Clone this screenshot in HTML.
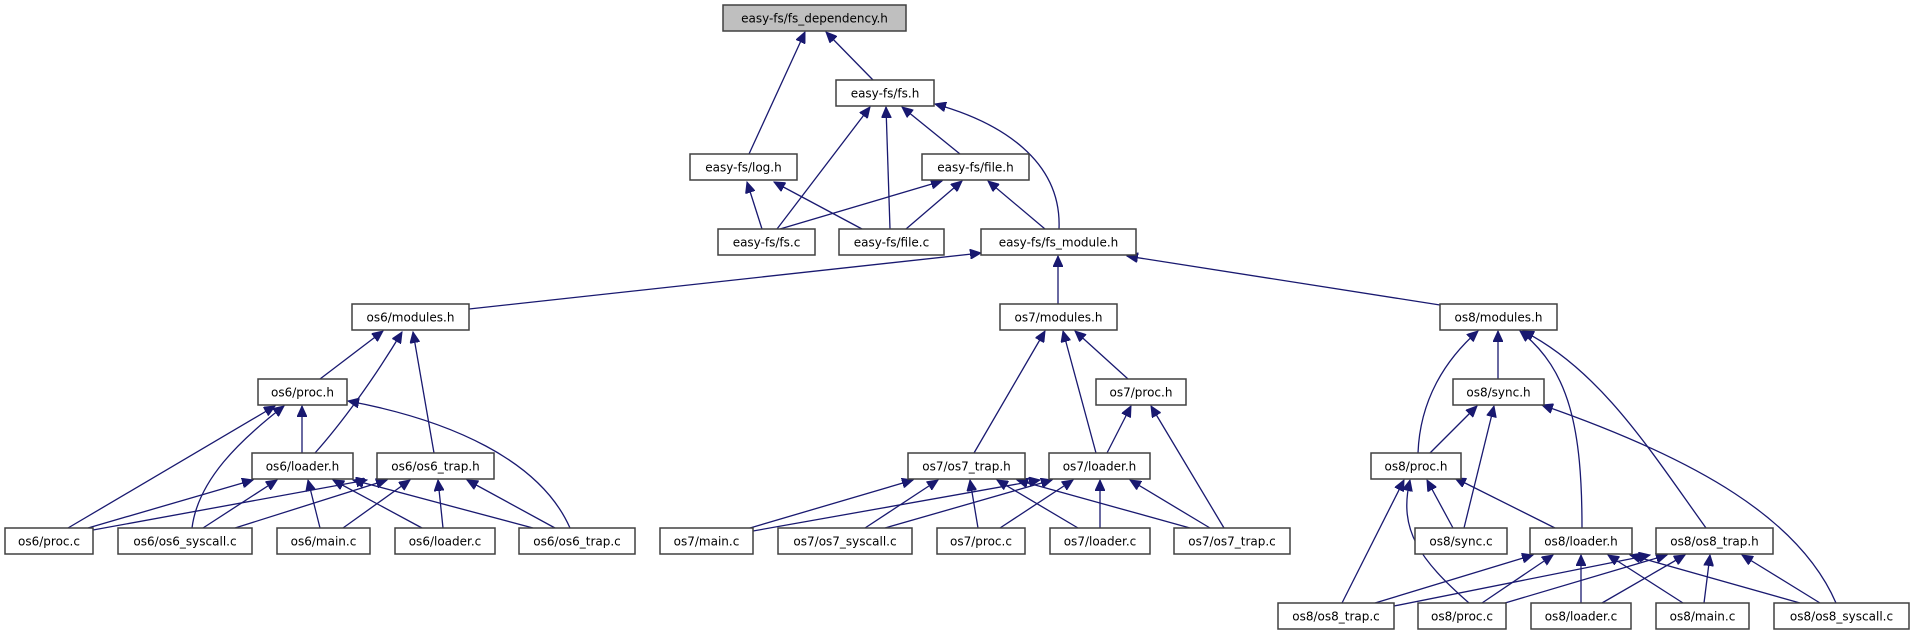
<!DOCTYPE html>
<html><head><meta charset="utf-8"><style>
html,body{margin:0;padding:0;background:#fff;}
svg{display:block;}
text{font-family:"DejaVu Sans","Liberation Sans",sans-serif;font-size:12px;fill:#000;}
.b{fill:#fff;stroke:#404040;stroke-width:1.5;}
.e{fill:none;stroke:#191970;stroke-width:1.3;marker-end:url(#a);}
</style></head><body>
<svg width="1914" height="635" viewBox="0 0 1914 635" xmlns="http://www.w3.org/2000/svg">
<defs><marker id="a" markerUnits="userSpaceOnUse" markerWidth="12" markerHeight="10" refX="11" refY="5" orient="auto"><path d="M0,0 L11,5 L0,10 z" fill="#191970" stroke="#191970"/></marker></defs>
<g>
<path class="e" d="M749,154 L805,32"/>
<path class="e" d="M873,80 L826,32"/>
<path class="e" d="M777,229 L870,107"/>
<path class="e" d="M890,229 L886,107"/>
<path class="e" d="M960,154 L902,107"/>
<path class="e" d="M1059,229 C1062,160 1000,122 935,104"/>
<path class="e" d="M762,229 L747,182"/>
<path class="e" d="M862,229 L774,182"/>
<path class="e" d="M780,229 L942,181"/>
<path class="e" d="M906,229 L962,181"/>
<path class="e" d="M1045,229 L988,181"/>
<path class="e" d="M469,309 L981,253"/>
<path class="e" d="M1058,304 L1058,256"/>
<path class="e" d="M1440,305 L1127,256"/>
<!-- os6 -->
<path class="e" d="M320,379 L383,331"/>
<path class="e" d="M315,453 C340,425 372,382 402,332"/>
<path class="e" d="M434,453 L413,332"/>
<path class="e" d="M302,453 L302,406"/>
<path class="e" d="M68,528 L275,406"/>
<path class="e" d="M192,528 C198,480 240,440 284,406"/>
<path class="e" d="M570,528 C540,460 450,420 348,401"/>
<path class="e" d="M88,528 L253,480"/>
<path class="e" d="M203,528 L277,480"/>
<path class="e" d="M320,528 L308,480"/>
<path class="e" d="M422,528 L333,480"/>
<path class="e" d="M533,528 L353,480"/>
<path class="e" d="M93,530 L367,480"/>
<path class="e" d="M235,528 L387,480"/>
<path class="e" d="M343,528 L410,480"/>
<path class="e" d="M443,528 L438,480"/>
<path class="e" d="M555,528 L467,480"/>
<!-- os7 -->
<path class="e" d="M974,453 L1045,331"/>
<path class="e" d="M1096,453 L1063,331"/>
<path class="e" d="M1128,379 L1075,331"/>
<path class="e" d="M1107,453 L1131,406"/>
<path class="e" d="M1224,528 L1151,406"/>
<path class="e" d="M750,528 L913,480"/>
<path class="e" d="M865,528 L938,480"/>
<path class="e" d="M978,528 L970,480"/>
<path class="e" d="M1078,528 L997,480"/>
<path class="e" d="M1190,528 L1017,480"/>
<path class="e" d="M753,531 L1040,480"/>
<path class="e" d="M885,528 L1052,480"/>
<path class="e" d="M1000,528 L1073,480"/>
<path class="e" d="M1100,528 L1100,480"/>
<path class="e" d="M1210,528 L1130,480"/>
<!-- os8 -->
<path class="e" d="M1418,453 C1420,400 1445,360 1478,331"/>
<path class="e" d="M1498,379 L1498,331"/>
<path class="e" d="M1582,528 C1582,430 1570,370 1520,331"/>
<path class="e" d="M1706,528 C1650,450 1600,370 1523,331"/>
<path class="e" d="M1430,453 L1477,406"/>
<path class="e" d="M1464,528 L1494,406"/>
<path class="e" d="M1836,603 C1800,520 1700,460 1542,405"/>
<path class="e" d="M1453,528 L1427,480"/>
<path class="e" d="M1555,528 L1455,478"/>
<path class="e" d="M1342,603 L1404,480"/>
<path class="e" d="M1469,603 C1420,560 1398,530 1410,480"/>
<path class="e" d="M1375,603 L1533,555"/>
<path class="e" d="M1482,603 L1553,555"/>
<path class="e" d="M1581,603 L1581,555"/>
<path class="e" d="M1683,603 L1608,555"/>
<path class="e" d="M1800,603 L1630,555"/>
<path class="e" d="M1394,606 L1650,555"/>
<path class="e" d="M1505,603 L1667,555"/>
<path class="e" d="M1602,603 L1685,555"/>
<path class="e" d="M1704,603 L1710,555"/>
<path class="e" d="M1820,603 L1742,555"/>
</g>
<g>
<rect x="723" y="5" width="183" height="26" style="fill:#bfbfbf;stroke:#404040;stroke-width:1.5"/><text x="814.5" y="22.5" text-anchor="middle">easy-fs/fs_dependency.h</text>
<rect class="b" x="836" y="80" width="98" height="26"/><text x="885" y="97.5" text-anchor="middle">easy-fs/fs.h</text>
<rect class="b" x="690" y="154" width="107" height="26"/><text x="743.5" y="171.5" text-anchor="middle">easy-fs/log.h</text>
<rect class="b" x="922" y="154" width="107" height="26"/><text x="975.5" y="171.5" text-anchor="middle">easy-fs/file.h</text>
<rect class="b" x="718" y="229" width="97" height="26"/><text x="766.5" y="246.5" text-anchor="middle">easy-fs/fs.c</text>
<rect class="b" x="839" y="229" width="105" height="26"/><text x="891.5" y="246.5" text-anchor="middle">easy-fs/file.c</text>
<rect class="b" x="981" y="229" width="155" height="26"/><text x="1058.5" y="246.5" text-anchor="middle">easy-fs/fs_module.h</text>
<rect class="b" x="352" y="304" width="117" height="26"/><text x="410.5" y="321.5" text-anchor="middle">os6/modules.h</text>
<rect class="b" x="258" y="379" width="89" height="26"/><text x="302.5" y="396.5" text-anchor="middle">os6/proc.h</text>
<rect class="b" x="252" y="453" width="101" height="26"/><text x="302.5" y="470.5" text-anchor="middle">os6/loader.h</text>
<rect class="b" x="377" y="453" width="117" height="26"/><text x="435.5" y="470.5" text-anchor="middle">os6/os6_trap.h</text>
<rect class="b" x="5" y="528" width="88" height="26"/><text x="49" y="545.5" text-anchor="middle">os6/proc.c</text>
<rect class="b" x="118" y="528" width="134" height="26"/><text x="185" y="545.5" text-anchor="middle">os6/os6_syscall.c</text>
<rect class="b" x="277" y="528" width="93" height="26"/><text x="323.5" y="545.5" text-anchor="middle">os6/main.c</text>
<rect class="b" x="395" y="528" width="100" height="26"/><text x="445" y="545.5" text-anchor="middle">os6/loader.c</text>
<rect class="b" x="519" y="528" width="116" height="26"/><text x="577" y="545.5" text-anchor="middle">os6/os6_trap.c</text>
<rect class="b" x="1000" y="304" width="117" height="26"/><text x="1058.5" y="321.5" text-anchor="middle">os7/modules.h</text>
<rect class="b" x="1096" y="379" width="90" height="26"/><text x="1141" y="396.5" text-anchor="middle">os7/proc.h</text>
<rect class="b" x="908" y="453" width="117" height="26"/><text x="966.5" y="470.5" text-anchor="middle">os7/os7_trap.h</text>
<rect class="b" x="1049" y="453" width="101" height="26"/><text x="1099.5" y="470.5" text-anchor="middle">os7/loader.h</text>
<rect class="b" x="660" y="528" width="93" height="26"/><text x="706.5" y="545.5" text-anchor="middle">os7/main.c</text>
<rect class="b" x="778" y="528" width="134" height="26"/><text x="845" y="545.5" text-anchor="middle">os7/os7_syscall.c</text>
<rect class="b" x="937" y="528" width="88" height="26"/><text x="981" y="545.5" text-anchor="middle">os7/proc.c</text>
<rect class="b" x="1050" y="528" width="100" height="26"/><text x="1100" y="545.5" text-anchor="middle">os7/loader.c</text>
<rect class="b" x="1174" y="528" width="116" height="26"/><text x="1232" y="545.5" text-anchor="middle">os7/os7_trap.c</text>
<rect class="b" x="1440" y="304" width="117" height="26"/><text x="1498.5" y="321.5" text-anchor="middle">os8/modules.h</text>
<rect class="b" x="1453" y="379" width="91" height="26"/><text x="1498.5" y="396.5" text-anchor="middle">os8/sync.h</text>
<rect class="b" x="1371" y="453" width="90" height="26"/><text x="1416" y="470.5" text-anchor="middle">os8/proc.h</text>
<rect class="b" x="1415" y="528" width="92" height="26"/><text x="1461" y="545.5" text-anchor="middle">os8/sync.c</text>
<rect class="b" x="1530" y="528" width="102" height="26"/><text x="1581" y="545.5" text-anchor="middle">os8/loader.h</text>
<rect class="b" x="1656" y="528" width="117" height="26"/><text x="1714.5" y="545.5" text-anchor="middle">os8/os8_trap.h</text>
<rect class="b" x="1278" y="603" width="116" height="26"/><text x="1336" y="620.5" text-anchor="middle">os8/os8_trap.c</text>
<rect class="b" x="1418" y="603" width="88" height="26"/><text x="1462" y="620.5" text-anchor="middle">os8/proc.c</text>
<rect class="b" x="1531" y="603" width="100" height="26"/><text x="1581" y="620.5" text-anchor="middle">os8/loader.c</text>
<rect class="b" x="1656" y="603" width="93" height="26"/><text x="1702.5" y="620.5" text-anchor="middle">os8/main.c</text>
<rect class="b" x="1774" y="603" width="135" height="26"/><text x="1841.5" y="620.5" text-anchor="middle">os8/os8_syscall.c</text>
</g>
</svg>
</body></html>
